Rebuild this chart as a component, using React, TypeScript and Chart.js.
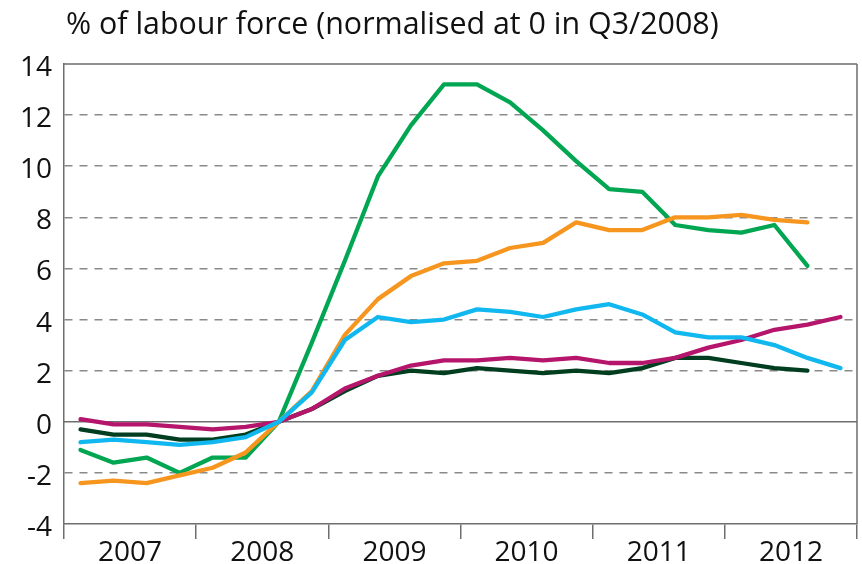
import React, { useEffect, useRef } from 'react';
import { Chart, registerables } from 'chart.js';

Chart.register(...registerables);

const titleText = '% of labour force (normalised at 0 in Q3/2008)';

const quarters = [
  'Q1 2007', 'Q2 2007', 'Q3 2007', 'Q4 2007',
  'Q1 2008', 'Q2 2008', 'Q3 2008', 'Q4 2008',
  'Q1 2009', 'Q2 2009', 'Q3 2009', 'Q4 2009',
  'Q1 2010', 'Q2 2010', 'Q3 2010', 'Q4 2010',
  'Q1 2011', 'Q2 2011', 'Q3 2011', 'Q4 2011',
  'Q1 2012', 'Q2 2012', 'Q3 2012', 'Q4 2012',
];

const years = ['2007', '2008', '2009', '2010', '2011', '2012'];

const greenSeries = [-1.1, -1.6, -1.4, -2.0, -1.4, -1.4, 0, 3.1, 6.3, 9.6, 11.6, 13.2, 13.2, 12.5, 11.4, 10.2, 9.1, 9.0, 7.7, 7.5, 7.4, 7.7, 6.1, null];
const orangeSeries = [-2.4, -2.3, -2.4, -2.1, -1.8, -1.2, 0, 1.2, 3.4, 4.8, 5.7, 6.2, 6.3, 6.8, 7.0, 7.8, 7.5, 7.5, 8.0, 8.0, 8.1, 7.9, 7.8, null];
const cyanSeries = [-0.8, -0.7, -0.8, -0.9, -0.8, -0.6, 0, 1.15, 3.2, 4.1, 3.9, 4.0, 4.4, 4.3, 4.1, 4.4, 4.6, 4.2, 3.5, 3.3, 3.3, 3.0, 2.5, 2.1];
const magentaSeries = [0.1, -0.1, -0.1, -0.2, -0.3, -0.2, 0, 0.5, 1.3, 1.8, 2.2, 2.4, 2.4, 2.5, 2.4, 2.5, 2.3, 2.3, 2.5, 2.9, 3.2, 3.6, 3.8, 4.1];
const darkGreenSeries = [-0.3, -0.5, -0.5, -0.7, -0.7, -0.5, 0, 0.5, 1.2, 1.8, 2.0, 1.9, 2.1, 2.0, 1.9, 2.0, 1.9, 2.1, 2.5, 2.5, 2.3, 2.1, 2.0, null];

const yMin = -4;
const yMax = 14;
const yStep = 2;

const FONT = '"Open Sans", "DejaVu Sans", sans-serif';
const AXIS_COLOR = '#6e6e6e';

export default function App() {
  const ref = useRef<HTMLCanvasElement>(null);

  useEffect(() => {
    document.body.style.margin = '0';
    const canvas = ref.current;
    if (!canvas) return;

    const framePlugin = {
      id: 'frame',
      beforeDatasetsDraw(chart: any) {
        const { ctx, chartArea, scales } = chart;
        const { left, right, top, bottom } = chartArea;
        const y0 = scales.y.getPixelForValue(0);
        ctx.save();
        ctx.strokeStyle = AXIS_COLOR;
        ctx.lineWidth = 1.5;
        ctx.beginPath();
        ctx.moveTo(left, y0);
        ctx.lineTo(right, y0);
        ctx.moveTo(left, top);
        ctx.lineTo(right, top);
        ctx.moveTo(right, top);
        ctx.lineTo(right, bottom);
        ctx.stroke();
        ctx.restore();
      },
      afterDraw(chart: any) {
        const { ctx, chartArea } = chart;
        ctx.save();
        ctx.font = `30.4px ${FONT}`;
        ctx.fillStyle = '#111';
        ctx.textBaseline = 'alphabetic';
        ctx.textAlign = 'left';
        ctx.fillText(titleText, chartArea.left + 2, 34);
        ctx.restore();
      },
    };

    const line = (data: (number | null)[], color: string, order: number) => ({
      data,
      borderColor: color,
      backgroundColor: color,
      borderWidth: 4.3,
      pointRadius: 0,
      tension: 0,
      borderJoinStyle: 'round' as const,
      borderCapStyle: 'round' as const,
      spanGaps: false,
      order,
      xAxisID: 'x',
      yAxisID: 'y',
    });

    const chart = new Chart(canvas, {
      type: 'line',
      data: {
        labels: quarters,
        datasets: [
          line(cyanSeries, '#10b8ef', 0),
          line(magentaSeries, '#b5166b', 1),
          line(orangeSeries, '#f7961f', 2),
          line(greenSeries, '#00a651', 3),
          line(darkGreenSeries, '#013d1f', 4),
        ],
      },
      options: {
        responsive: false,
        animation: false,
        devicePixelRatio: 1,
        layout: { padding: { top: 64, right: 5, left: 0, bottom: 0 } },
        plugins: {
          legend: { display: false },
          tooltip: { enabled: false },
          title: { display: false },
        },
        scales: {
          x: {
            type: 'category',
            display: false,
            offset: true,
          },
          x2: {
            type: 'category',
            labels: years,
            position: 'bottom',
            offset: true,
            grid: {
              offset: true,
              drawOnChartArea: false,
              drawTicks: true,
              tickLength: 15,
              color: AXIS_COLOR,
              lineWidth: 1.5,
            },
            border: { display: true, color: AXIS_COLOR, width: 1.5 },
            ticks: {
              color: '#111',
              font: { family: FONT, size: 28 },
              padding: -3,
              maxRotation: 0,
              autoSkip: false,
            },
            afterFit: (s: any) => {
              s.height = 40;
            },
          },
          y: {
            min: yMin,
            max: yMax,
            ticks: {
              stepSize: yStep,
              color: '#111',
              font: { family: FONT, size: 28 },
              padding: 12,
              labelOffset: 4,
            },
            grid: {
              drawTicks: false,
              lineWidth: 1.6,
              color: (c: any) => {
                const v = c.tick ? c.tick.value : null;
                return v === 0 || v === yMax || v === yMin ? 'rgba(0,0,0,0)' : '#8a8a8a';
              },
            },
            border: { display: true, color: AXIS_COLOR, width: 1.5, dash: [8, 7] },
            afterFit: (s: any) => {
              s.width = 64;
            },
          },
        },
      },
      plugins: [framePlugin],
    } as any);

    return () => chart.destroy();
  }, []);

  return (
    <div style={{ width: 862, height: 564, background: '#fff' }}>
      <canvas ref={ref} width={862} height={564} style={{ display: 'block' }} />
    </div>
  );
}
